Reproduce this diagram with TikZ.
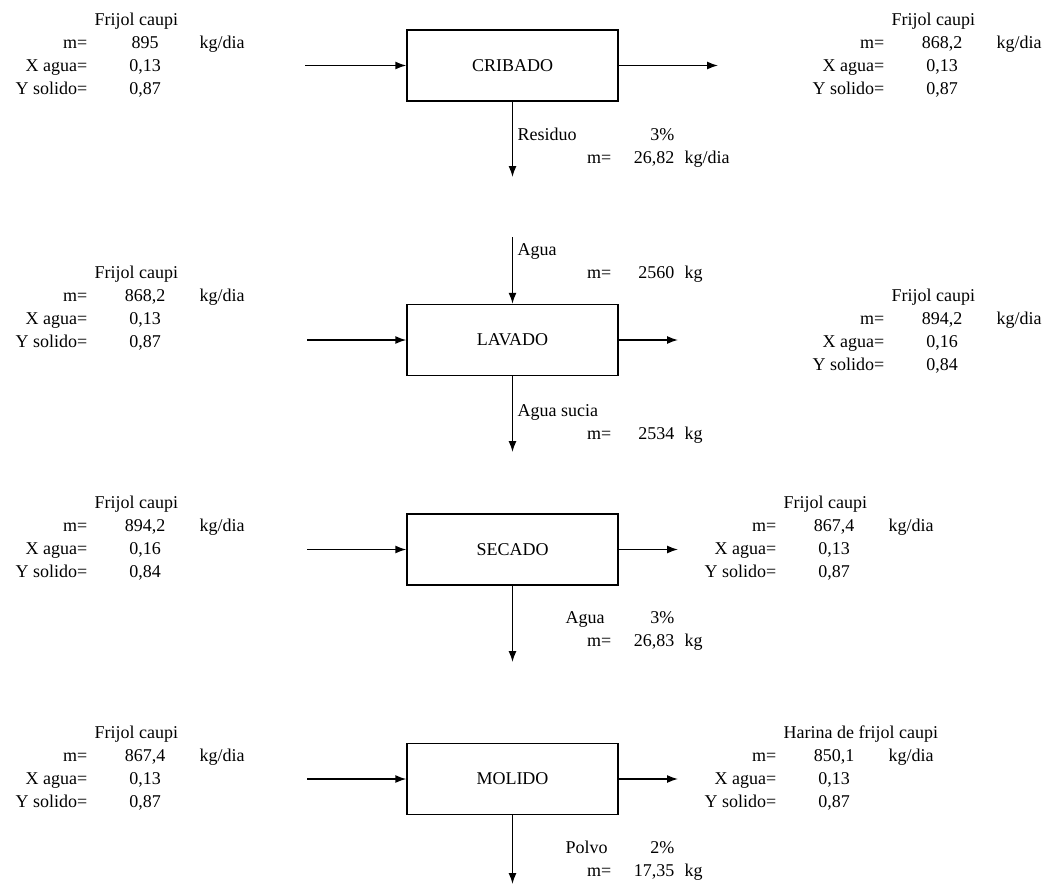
\documentclass[tikz,border=0pt]{standalone}
\usepackage{fontspec}
\setmainfont{Liberation Serif}
\usetikzlibrary{arrows.meta,positioning}
\tikzset{every picture/.style={line width=1.4pt}}
\tikzset{font=\fontsize{18}{22}\selectfont}
\tikzstyle{proceso}=[draw,rectangle,minimum width=211pt,minimum height=71pt,inner sep=0pt]
\tikzstyle{etq}=[anchor=base east,inner sep=0pt]
\tikzstyle{val}=[anchor=base,inner sep=0pt]
\tikzstyle{izq}=[anchor=base west,inner sep=0pt]
\tikzstyle{flujo}=[-{Latex[length=11pt,width=8pt]}]

% tabla de corriente: nombre, x de etiquetas, fila, titulo, m, X, Y
\newcommand{\corriente}[7]{%
\node[izq] (#1-t) at ({#2+6},{25+23*#3}) {#4};
\node[etq] (#1-m) at (#2,{25+23*(#3+1)}) {m=};
\node[val] (#1-mv) at ({#2+57},{25+23*(#3+1)}) {#5};
\node[izq] (#1-mu) at ({#2+111},{25+23*(#3+1)}) {kg/dia};
\node[etq] (#1-x) at (#2,{25+23*(#3+2)}) {X agua=};
\node[val] (#1-xv) at ({#2+57},{25+23*(#3+2)}) {#6};
\node[etq] (#1-y) at (#2,{25+23*(#3+3)}) {Y solido=};
\node[val] (#1-yv) at ({#2+57},{25+23*(#3+3)}) {#7};
}

\begin{document}
\begin{tikzpicture}[x=1pt,y=-1pt]
\useasboundingbox (0,0) rectangle (1050,886);
\node[proceso] (crib) at (512.5,65.5) {CRIBADO};
\node[proceso] (lav) at (512.5,340) {LAVADO};
\node[proceso] (sec) at (512.5,549.5) {SECADO};
\node[proceso] (mol) at (512.5,779) {MOLIDO};
\coordinate (e1) at (305,65.5);
\coordinate (s1) at (718,65.5);
\coordinate (r1) at (512.5,177);
\coordinate (a2) at (512.5,237);
\coordinate (e2) at (307,340);
\coordinate (s2) at (678,340);
\coordinate (r2) at (512.5,452);
\coordinate (e3) at (307,549.5);
\coordinate (s3) at (678,549.5);
\coordinate (r3) at (512.5,662);
\coordinate (e4) at (307,779);
\coordinate (s4) at (678,779);
\coordinate (r4) at (512.5,884);
\path[flujo]
(e1) edge (crib)
(crib) edge (s1)
(crib) edge (r1)
(a2) edge (lav)
(e2) edge (lav)
(lav) edge (s2)
(lav) edge (r2)
(e3) edge (sec)
(sec) edge (s3)
(sec) edge (r3)
(e4) edge (mol)
(mol) edge (s4)
(mol) edge (r4);
% corrientes de entrada y salida
\corriente{ent1}{88}{0}{Frijol caupi}{895}{0,13}{0,87}
\corriente{sal1}{885}{0}{Frijol caupi}{868,2}{0,13}{0,87}
\corriente{ent2}{88}{11}{Frijol caupi}{868,2}{0,13}{0,87}
\corriente{sal2}{885}{12}{Frijol caupi}{894,2}{0,16}{0,84}
\corriente{ent3}{88}{21}{Frijol caupi}{894,2}{0,16}{0,84}
\corriente{sal3}{777}{21}{Frijol caupi}{867,4}{0,13}{0,87}
\corriente{ent4}{88}{31}{Frijol caupi}{867,4}{0,13}{0,87}
\corriente{sal4}{777}{31}{Harina de frijol caupi}{850,1}{0,13}{0,87}
% residuo
\node[izq] (res) at (517,140) {Residuo};
\node[etq] (resp) at (675,140) {3\%};
\node[etq] (resm) at (612,163) {m=};
\node[etq] (resv) at (675,163) {26,82};
\node[izq] (resu) at (684,163) {kg/dia};
% agua de lavado
\node[izq] (agu) at (517,255) {Agua};
\node[etq] (agum) at (612,278) {m=};
\node[etq] (aguv) at (675,278) {2560};
\node[izq] (aguu) at (684,278) {kg};
\node[izq] (suc) at (517,416) {Agua sucia};
\node[etq] (sucm) at (612,439) {m=};
\node[etq] (sucv) at (675,439) {2534};
\node[izq] (sucu) at (684,439) {kg};
% agua evaporada
\node[izq] (eva) at (565,623) {Agua};
\node[etq] (evap) at (675,623) {3\%};
\node[etq] (evam) at (612,646) {m=};
\node[etq] (evav) at (675,646) {26,83};
\node[izq] (evau) at (684,646) {kg};
% polvo
\node[izq] (pol) at (565,853) {Polvo};
\node[etq] (polp) at (675,853) {2\%};
\node[etq] (polm) at (612,876) {m=};
\node[etq] (polv) at (675,876) {17,35};
\node[izq] (polu) at (684,876) {kg};
\end{tikzpicture}
\end{document}
